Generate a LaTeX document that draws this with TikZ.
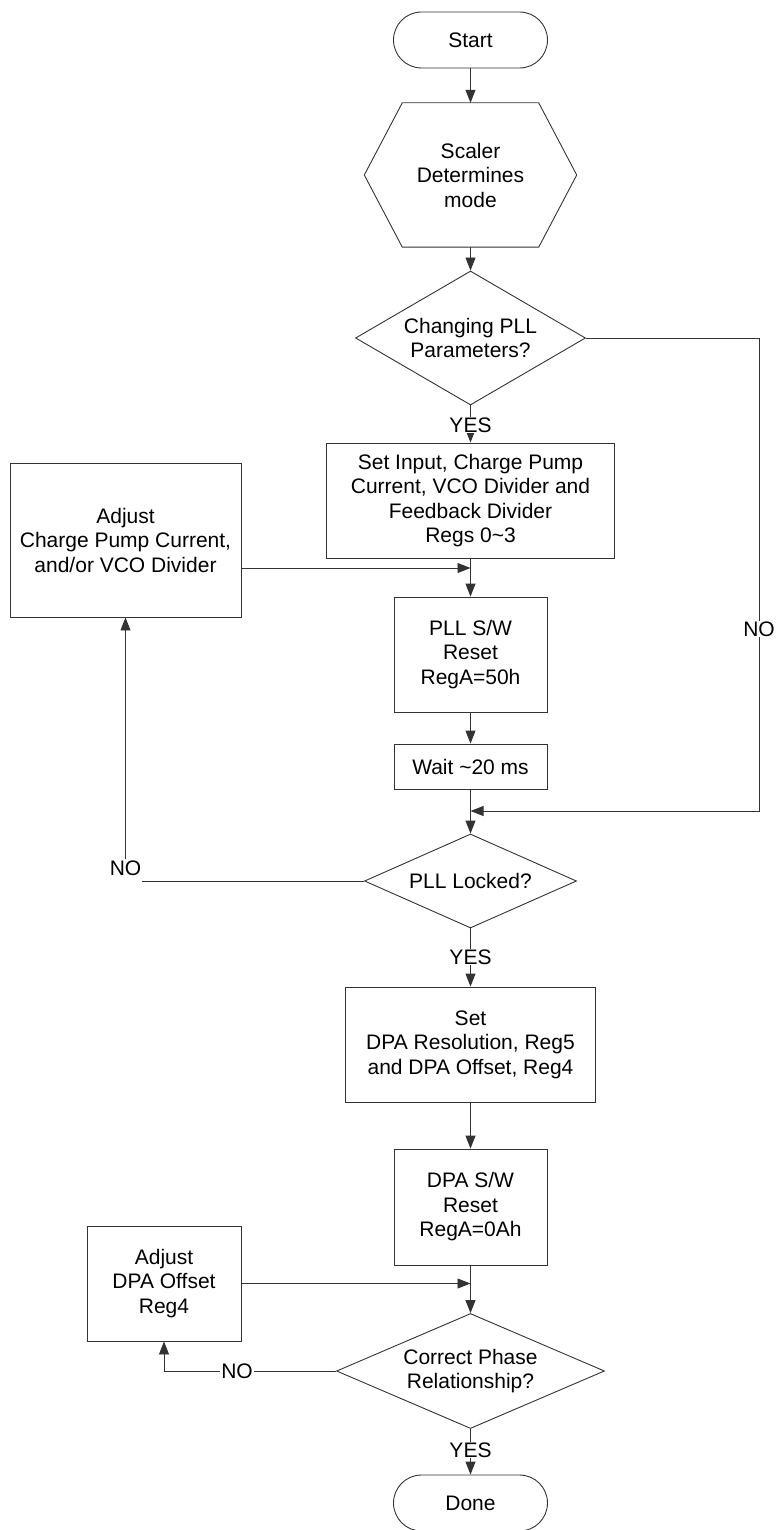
\documentclass[tikz,border=0pt]{standalone}
\usepackage{fontspec}
\setmainfont{Liberation Sans}
\usepackage{tikz}
\usetikzlibrary{calc,shapes.geometric,arrows.meta}

\begin{document}
\begin{tikzpicture}[x=1pt,y=-1pt,
    every node/.style={align=center,font=\fontsize{21}{24.5}\selectfont},
    box/.style={draw=black!80,line width=0.9pt,minimum width=153pt,minimum height=115pt,inner sep=2pt},
    term/.style={draw=black!80,line width=0.9pt,rounded corners=28pt,minimum width=154pt,minimum height=56pt},
    cond/.style={draw=black!80,line width=0.9pt,diamond,inner sep=0pt},
    lbl/.style={fill=white,inner sep=1pt},
    arr/.style={draw=black!80,line width=0.9pt,-{Triangle[length=13pt,width=10pt]}},
    ln/.style={draw=black!80,line width=0.9pt}]

    \useasboundingbox (0,0) rectangle (776,1530);

    % main column
    \node (nStart) [term] at (470.5,40) {Start};
    \node (nScal) [minimum width=212pt,minimum height=144pt] at (470.5,175) {Scaler\\Determines\\mode};
    \node (nChg) [cond,minimum width=230pt,minimum height=134pt,aspect=1.72] at (470.5,338) {Changing PLL\\Parameters?};
    \node (nSetIn) [box,minimum width=288pt] at (470.5,500.5) {Set Input, Charge Pump\\Current, VCO Divider and\\Feedback Divider\\Regs 0\textasciitilde 3};
    \node (nReset) [box] at (470.5,654.5) {PLL S/W\\Reset\\RegA=50h};
    \node (nWait) [box,minimum height=45pt] at (470.5,766.5) {Wait \textasciitilde 20 ms};
    \node (nLock) [cond,minimum width=212pt,minimum height=94pt,aspect=2.26] at (470.5,881) {PLL Locked?};
    \node (nSetDPA) [box,minimum width=250pt] at (470.5,1044.5) {Set\\DPA Resolution, Reg5\\and DPA Offset, Reg4};
    \node (nDPAr) [box,minimum height=116pt] at (470.5,1207) {DPA S/W\\Reset\\RegA=0Ah};
    \node (nPhase) [cond,minimum width=268pt,minimum height=115pt,aspect=2.33] at (470.5,1371) {Correct Phase\\Relationship?};
    \node (nDone) [term] at (470.5,1503) {Done};

    % side boxes
    \node (nAdj1) [box,minimum width=231pt,minimum height=154pt] at (125.5,540) {Adjust\\Charge Pump Current,\\and/or VCO Divider};
    \node (nAdj2) [box,minimum width=154pt] at (164,1283.5) {Adjust\\DPA Offset\\Reg4};

    % hexagon round the scaler text
    \draw[ln] ($(nScal.north west)+(38,0)$) -- ($(nScal.north east)+(-38,0)$) -- (nScal.east)
        -- ($(nScal.south east)+(-38,0)$) -- ($(nScal.south west)+(38,0)$) -- (nScal.west) -- cycle;

    % junctions on the main line
    \coordinate (jSet) at (470.5,568);
    \coordinate (jLock) at (470.5,811);

    \draw[arr] (nStart) -- (nScal);
    \draw[arr] (nScal) -- (nChg);
    \draw[arr] (nChg) -- (nSetIn);
    \draw[arr] (nSetIn) -- (nReset);
    \draw[arr] (nReset) -- (nWait);
    \draw[arr] (nWait) -- (nLock);
    \draw[arr] (nLock) -- (nSetDPA);
    \draw[arr] (nSetDPA) -- (nDPAr);
    \draw[arr] (nDPAr) -- (nPhase);
    \draw[arr] (nPhase) -- (nDone);

    \draw[arr] (nChg.east) -- ++(173.5,0) |- (jLock);
    \draw[arr] (nAdj1.east |- jSet) -- (jSet);
    \draw[arr] (nAdj2.east) -- (nAdj2.east -| nPhase.north);

    % labels
    \node (nYes1) [lbl] at (470.5,425) {YES};
    \node (nNoR) [lbl] at (759,629) {NO};
    \node (nNoL) [inner sep=1pt] at (125.5,868) {NO};
    \node (nYes2) [lbl] at (470.5,957) {YES};
    \draw[ln] (nLock.west) -- (nLock.west -| nNoL.east);
    \draw[arr] (nNoL) -- (nAdj1);
    \draw[arr] (nPhase.west) -| (nAdj2.south);
    \node (nNo3) [lbl] at (237,1371) {NO};
    \node (nYes3) [lbl] at (470.5,1450) {YES};

\end{tikzpicture}
\end{document}
